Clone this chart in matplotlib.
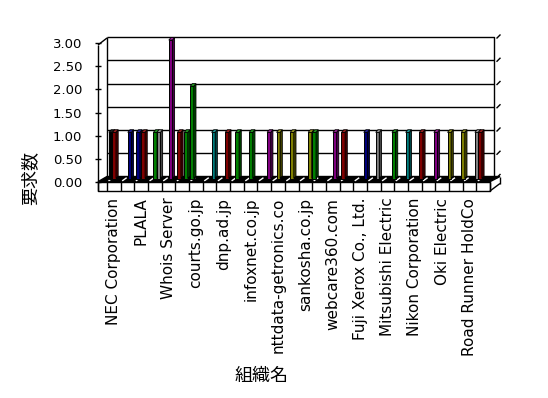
import numpy as np
import matplotlib
matplotlib.use("Agg")
import matplotlib.pyplot as plt
from matplotlib.patches import Polygon
from matplotlib.colors import to_rgb

plt.rcParams['font.family'] = ['DejaVu Sans', 'Noto Sans CJK JP']

# ---------------- data ----------------
n_categories = 28
tick_labels = ["NEC Corporation", "PLALA", "Whois Server", "courts.go.jp",
               "dnp.ad.jp", "infoxnet.co.jp", "nttdata-getronics.co",
               "sankosha.co.jp", "webcare360.com", "Fuji Xerox Co., Ltd.",
               "Mitsubishi Electric", "Nikon Corporation", "Oki Electric",
               "Road Runner HoldCo"]
y_ticks = [0.0, 0.5, 1.0, 1.5, 2.0, 2.5, 3.0]
x_title = "組織名"
y_title = "要求数"

# each bar: category index, sub-slot within category (8 per category), value, colour
bar_cat = [0, 0, 1, 2, 2, 3, 3, 4, 5, 5, 6, 7, 8, 9, 10, 11,
           12, 13, 14, 15, 16, 17, 18, 19, 20, 21, 22, 23, 24, 25, 26, 27]
bar_slot = [1, 3, 4, 1, 4, 3, 5, 4, 1, 5, 0.5, 5, 5, 3, 3, 5.5,
            3, 3, 5.5, 0, 4, 1, 6, 5, 6.5, 6.5, 6.5, 7, 7, 7, 7, 1]
bar_val = [1, 1, 1, 1, 1, 1, 1, 3, 1, 1, 2, 1, 1, 1, 1, 1,
           1, 1, 1, 1, 1, 1, 1, 1, 1, 1, 1, 1, 1, 1, 1, 1]
bar_color = ["#000000", "#800000", "#000080", "#000080", "#800000", "#008000",
             "#808080", "#800080", "#800000", "#008000", "#008000", "#008080",
             "#800000", "#008000", "#008000", "#800080", "#808000", "#808000",
             "#808000", "#008000", "#800080", "#800000", "#000080", "#808080",
             "#008000", "#008080", "#800000", "#800080", "#808000", "#808000",
             "#808080", "#800000"]

# ---------------- layout (pixels of the 548x398 canvas) ----------------
W, H = 548, 398
X0, X1 = 107.0, 490.0          # front category axis extent
Y0, Y3 = 181.7, 43.3           # front value axis: 0 and 3
CW = (X1 - X0) / n_categories  # px per category
VH = (Y0 - Y3) / 3.0           # px per value unit


def px(x):
    return (x - X0) / CW


def py(y):
    return (Y0 - y) / VH


fig = plt.figure(figsize=(W / 100, H / 100), dpi=100)
fig.patch.set_facecolor("white")
ax = fig.add_axes([X0 / W, 1 - Y0 / H, (X1 - X0) / W, (Y0 - Y3) / H])
ax.set_xlim(0, n_categories)
ax.set_ylim(0, 3)
ax.patch.set_visible(False)
for s in ax.spines.values():
    s.set_visible(False)

LW = 1.0
K = dict(color="black", lw=LW, clip_on=False, solid_capstyle="butt")


def line(xs, ys, **kw):
    d = dict(K)
    d.update(kw)
    ax.plot([px(x) for x in xs], [py(y) for y in ys], **d)


# back wall
BL, BR, BT, BB = 107.0, 494.0, 37.0, 176.5
line([BL, BR, BR], [BT, BT, BB])
line([BL, BL], [BT, BB])
for k in range(1, 6):
    yy = BB - (BB - BT) / 6 * k
    line([BL, BR], [yy, yy])
for k in range(0, 7):
    yy = BB - (BB - BT) / 6 * k
    line([BR + 2.5, BR + 6.5], [yy + 1.5, yy - 2.5])

# left wall edge and value ticks
line([98, 98], [45, 191])
line([98, 107], [45, 38])
for v in y_ticks:
    yy = Y0 - v * VH
    line([95, 101], [yy, yy])

# floor top (dark) and front face
ax.add_patch(Polygon([(px(BL), py(BB)), (px(BR + 6), py(BB)),
                      (px(X1), py(Y0)), (px(98), py(Y0))],
                     closed=True, facecolor="black", edgecolor="black",
                     lw=LW, clip_on=False, zorder=2))
for i in range(n_categories):
    b = X0 + CW * i
    line([b + 1.5, b + 6], [Y0 - 0.8, Y0 - 4], color="white", zorder=2.5)
line([98, X1, X1, 98, 98], [Y0, Y0, 191, 191, Y0], zorder=3)
for i in range(n_categories + 1):
    b = X0 + CW * i
    line([b, b], [Y0, 191], zorder=3)
line([X1, BR + 6], [191, 183.5], zorder=3)
line([BR + 6, BR + 6], [183.5, BB], zorder=3)

# bars (pseudo 3D)
base = py(178.5)
bw = 3.6 / CW
ddx = 2.2 / CW
ddy = 2.6 / VH
order = np.argsort([c + s / 8 for c, s in zip(bar_cat, bar_slot)], kind="stable")
for j in order:
    x = bar_cat[j] + bar_slot[j] / 8 + 0.25 / CW
    top = base + bar_val[j]
    c = np.array(to_rgb(bar_color[j]))
    side = c * 0.55
    topc = np.clip(c * 1.0 + 0.12, 0, 1)
    ax.add_patch(Polygon([(x, base), (x + bw, base), (x + bw, top), (x, top)],
                         closed=True, facecolor=c, edgecolor="black", lw=0.7,
                         clip_on=False, zorder=5))
    ax.add_patch(Polygon([(x + bw, base), (x + bw + ddx, base + ddy),
                          (x + bw + ddx, top + ddy), (x + bw, top)],
                         closed=True, facecolor=side, edgecolor="black", lw=0.6,
                         clip_on=False, zorder=5))
    ax.add_patch(Polygon([(x, top), (x + bw, top), (x + bw + ddx, top + ddy),
                          (x + ddx, top + ddy)],
                         closed=True, facecolor=topc, edgecolor="black", lw=0.6,
                         clip_on=False, zorder=5))

# ticks and labels
ax.set_yticks(y_ticks)
ax.set_yticklabels([f"{v:.2f}" for v in y_ticks])
ax.tick_params(axis="y", length=0, pad=18, labelsize=9.5)
ax.set_xticks(np.arange(0, n_categories, 2) + 0.5)
ax.set_xticklabels(tick_labels, rotation=90, va="top", ha="center")
ax.tick_params(axis="x", length=0, pad=11.5, labelsize=11)

ax.set_xlabel(x_title, fontsize=13, family=['Noto Sans CJK JP', 'DejaVu Sans'])
ax.xaxis.set_label_coords(px(262) / n_categories, -(376 - Y0) / (Y0 - Y3))
ax.xaxis.label.set_va("center")
ax.set_ylabel(y_title, fontsize=13, family=['Noto Sans CJK JP', 'DejaVu Sans'])
ax.yaxis.set_label_coords(px(30) / n_categories, (Y0 - 178) / (Y0 - Y3))
ax.yaxis.label.set_va("center")

fig.savefig("out.png", dpi=100, facecolor="white")
